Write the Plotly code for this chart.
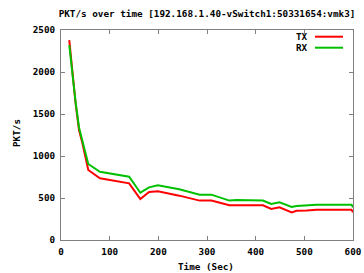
import plotly.graph_objects as go

time_sec = [17, 23, 30, 37, 44, 56, 80, 140, 163, 181, 199, 243, 285, 309, 346, 360, 415, 432, 449, 474, 484, 505, 525, 597, 600]
tx_pkts = [2380, 2004, 1627, 1310, 1151, 833, 734, 675, 488, 571, 580, 528, 469, 469, 413, 413, 413, 369, 389, 329, 349, 350, 361, 361, 329]
rx_pkts = [2320, 1990, 1640, 1340, 1190, 905, 813, 754, 563, 627, 651, 603, 540, 540, 469, 476, 469, 429, 448, 393, 405, 410, 421, 421, 389]

x_ticks = [0, 100, 200, 300, 400, 500, 600]
y_ticks = [0, 500, 1000, 1500, 2000, 2500]

FONT = "DejaVu Sans Mono"
FS = 9.3
axis_col = "#808080"

W, H = 364, 273
PL, PR, PT, PB = 61, 353, 30, 240  # plot box in window pixels
PW, PH = PR - PL, PB - PT


def px(X):
    return (X - PL) / PW


def py(Y):
    return 1 - (Y - PT) / PH


fnt = dict(family=FONT, size=FS, color="black", weight="bold")

fig = go.Figure()
fig.add_trace(go.Scatter(x=time_sec, y=tx_pkts, mode="lines", name="TX",
                         line=dict(color="#ff0000", width=2), showlegend=False))
fig.add_trace(go.Scatter(x=time_sec, y=rx_pkts, mode="lines", name="RX",
                         line=dict(color="#00c000", width=2), showlegend=False))

axis_common = dict(showgrid=False, zeroline=False, showline=True, linecolor=axis_col, linewidth=1,
                   ticks="inside", ticklen=4, tickcolor=axis_col, mirror="ticks", automargin=False,
                   ticklabelstandoff=3, ticklabeloverflow="allow", tickfont=fnt)

fig.update_layout(
    width=W, height=H,
    margin=dict(l=PL, r=W - PR, t=PT, b=H - PB),
    plot_bgcolor="white", paper_bgcolor="white",
    title=dict(text="PKT/s over time [192.168.1.40-vSwitch1:50331654:vmk3]",
               x=207 / W, xanchor="center", y=1 - 14 / H, yanchor="middle",
               font=fnt),
    xaxis=dict(range=[0, 600], tickvals=x_ticks, ticktext=[str(v) for v in x_ticks], **axis_common),
    yaxis=dict(range=[0, 2500], tickvals=y_ticks, ticktext=[str(v) for v in y_ticks], **axis_common),
)

# axis titles
fig.add_annotation(x=px(206), y=py(266.5), xref="paper", yref="paper", text="Time (Sec)",
                   showarrow=False, xanchor="center", yanchor="middle", font=fnt)
fig.add_annotation(x=px(16), y=py(133), xref="paper", yref="paper", text="PKT/s", textangle=-90,
                   showarrow=False, xanchor="center", yanchor="middle", font=fnt)

# gnuplot-style legend (text then line sample)
legend_items = [("TX", "#ff0000"), ("RX", "#00c000")]
for i, (name, col) in enumerate(legend_items):
    Y = 36.7 + i * 11
    fig.add_annotation(x=px(310), y=py(Y), xref="paper", yref="paper", text=name, showarrow=False,
                       xanchor="right", yanchor="middle", font=fnt)
    fig.add_shape(type="line", xref="paper", yref="paper", x0=px(315), x1=px(343), y0=py(Y), y1=py(Y),
                  line=dict(color=col, width=2))

fig.write_html("out.html", config={"displayModeBar": False},
               post_script="document.body.style.margin='0';document.body.style.overflow='hidden';")
